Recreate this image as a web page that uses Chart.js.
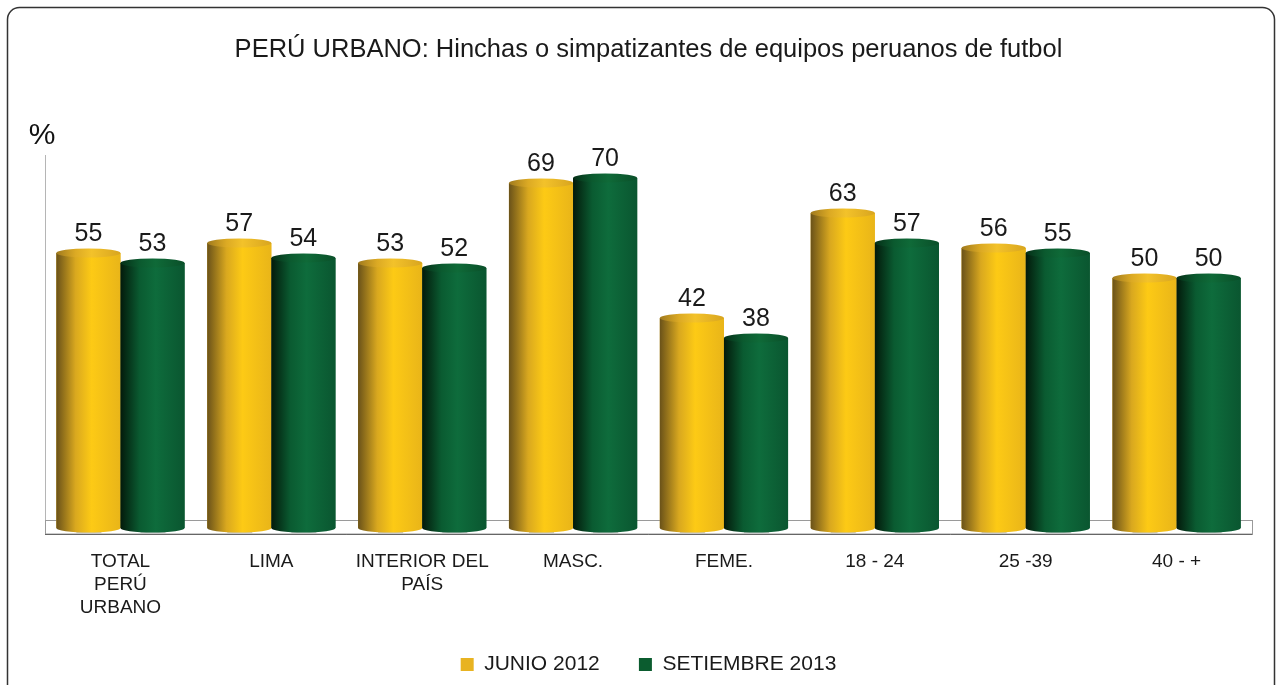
<!DOCTYPE html>
<html lang="es">
<head>
    <meta charset="UTF-8">
    <title>PERÚ URBANO: Hinchas o simpatizantes</title>
    <script src="https://cdn.jsdelivr.net/npm/chart.js@4.4.0/dist/chart.umd.min.js"></script>
    <style>
        html, body { margin: 0; padding: 0; background: #fff; }
        #wrap { width: 1281px; height: 685px; position: relative; }
    </style>
</head>
<body>
    <div id="wrap"><canvas id="grafico"></canvas></div>

    <script>
        // Données du graphique
        const categorias = [['TOTAL', 'PERÚ', 'URBANO'], 'LIMA', ['INTERIOR DEL', 'PAÍS'], 'MASC.', 'FEME.', '18 - 24', '25 -39', '40 - +'];
        const junio2012 = [55, 57, 53, 69, 42, 63, 56, 50];
        const setiembre2013 = [53, 54, 52, 70, 38, 57, 55, 50];
        const series = ['JUNIO 2012', 'SETIEMBRE 2013'];

        const fuente = "'Liberation Sans', Arial, sans-serif";

        // Couleurs des cylindres : [bord sombre, milieu, clair, droite]
        const tons = [
            ['#6a5219', '#d9a81f', '#fdca15', '#e9b519'],
            ['#031a0b', '#0a5b31', '#0e6c3c', '#0a5630']
        ];
        const tonsHaut = [
            ['#a07a1e', '#dcaa24', '#f3c22a', '#d8a51f'],
            ['#052f17', '#0b5a2f', '#0f6a38', '#0a4f29']
        ];

        function degrade(ctx, gauche, droite, c) {
            const g = ctx.createLinearGradient(gauche, 0, droite, 0);
            g.addColorStop(0, c[0]);
            g.addColorStop(0.3, c[1]);
            g.addColorStop(0.55, c[2]);
            g.addColorStop(1, c[3]);
            return g;
        }

        // Cadre, sol, axe, "%" et cylindres
        const decor = {
            id: 'decor',
            beforeDraw(chart) {
                const ctx = chart.ctx;
                ctx.save();
                ctx.strokeStyle = '#333';
                ctx.lineWidth = 1.5;
                ctx.beginPath();
                ctx.roundRect(7.5, 7.5, 1267, 700, 12);
                ctx.stroke();
                ctx.restore();
            },
            beforeDatasetsDraw(chart) {
                const ctx = chart.ctx;
                const a = chart.chartArea;
                ctx.save();
                // axe vertical
                ctx.strokeStyle = '#b5b5b5';
                ctx.lineWidth = 1;
                ctx.beginPath();
                ctx.moveTo(a.left + 0.5, a.top + 2);
                ctx.lineTo(a.left + 0.5, a.bottom + 6);
                ctx.stroke();
                // sol
                ctx.fillStyle = '#fff';
                ctx.fillRect(a.left, a.bottom - 8, a.right - a.left, 14);
                ctx.strokeStyle = '#9a9a9a';
                ctx.strokeRect(a.left + 0.5, a.bottom - 7.5, a.right - a.left, 13.5);
                ctx.strokeStyle = '#666';
                ctx.beginPath();
                ctx.moveTo(a.left, a.bottom + 6.5);
                ctx.lineTo(a.right + 0.5, a.bottom + 6.5);
                ctx.stroke();
                // "%"
                ctx.fillStyle = '#111';
                ctx.font = '30px ' + fuente;
                ctx.textAlign = 'center';
                ctx.textBaseline = 'middle';
                ctx.fillText('%', a.left - 3, a.top - 17);
                ctx.restore();
            },
            afterDatasetsDraw(chart) {
                const ctx = chart.ctx;
                ctx.save();
                chart.data.datasets.forEach((ds, di) => {
                    const meta = chart.getDatasetMeta(di);
                    meta.data.forEach((el, i) => {
                        const p = el.getProps(['x', 'y', 'base', 'width'], true);
                        const g = p.x - p.width / 2, d = p.x + p.width / 2;
                        const r = p.width / 2, ry = 4.5;
                        // ombre au sol
                        ctx.fillStyle = '#c8c8c8';
                        ctx.fillRect(p.x - 12, p.base + 2, 25, 4);
                        // corps
                        ctx.fillStyle = degrade(ctx, g, d, tons[di]);
                        ctx.fillRect(g, p.y, p.width, p.base - p.y);
                        ctx.beginPath();
                        ctx.ellipse(p.x, p.base, r, ry, 0, 0, Math.PI);
                        ctx.fill();
                        // dessus
                        ctx.fillStyle = degrade(ctx, g, d, tonsHaut[di]);
                        ctx.beginPath();
                        ctx.ellipse(p.x, p.y, r, ry, 0, 0, Math.PI * 2);
                        ctx.fill();
                        // valeur
                        ctx.fillStyle = '#1a1a1a';
                        ctx.font = '25px ' + fuente;
                        ctx.textAlign = 'center';
                        ctx.textBaseline = 'middle';
                        ctx.fillText(ds.data[i], p.x, p.y - 19);
                    });
                });
                ctx.restore();
            }
        };

        const ctx = document.getElementById('grafico').getContext('2d');
        new Chart(ctx, {
            type: 'bar',
            data: {
                labels: categorias,
                datasets: [
                    { label: series[0], data: junio2012, backgroundColor: '#e8b321', categoryPercentage: 0.85, barPercentage: 1 },
                    { label: series[1], data: setiembre2013, backgroundColor: '#0b5c2f', categoryPercentage: 0.85, barPercentage: 1 }
                ]
            },
            options: {
                responsive: true,
                maintainAspectRatio: false,
                animation: false,
                layout: { padding: { top: 0, left: 45, right: 29, bottom: 0 } },
                scales: {
                    x: {
                        grid: { display: false, drawTicks: false },
                        border: { display: false },
                        ticks: {
                            color: '#1a1a1a',
                            font: { family: fuente, size: 19, lineHeight: 1.21 },
                            padding: 22,
                            maxRotation: 0,
                            autoSkip: false
                        },
                        afterFit(scale) { scale.height = 116; }
                    },
                    y: { display: false, min: 0, max: 75 }
                },
                plugins: {
                    title: {
                        display: true,
                        text: 'PERÚ URBANO: Hinchas o simpatizantes de equipos peruanos de futbol',
                        color: '#1a1a1a',
                        font: { family: fuente, size: 25.5, weight: 'normal', lineHeight: 1.2 },
                        padding: { top: 35, bottom: 87.4 }
                    },
                    legend: {
                        position: 'bottom',
                        labels: {
                            color: '#1a1a1a',
                            font: { family: fuente, size: 21 },
                            boxWidth: 13,
                            boxHeight: 13,
                            padding: 10,
                            generateLabels(chart) {
                                const base = Chart.defaults.plugins.legend.labels.generateLabels(chart);
                                base[0].text = base[0].text + '     ';
                                return base;
                            }
                        }
                    },
                    tooltip: { enabled: false }
                }
            },
            plugins: [decor]
        });
    </script>
</body>
</html>
